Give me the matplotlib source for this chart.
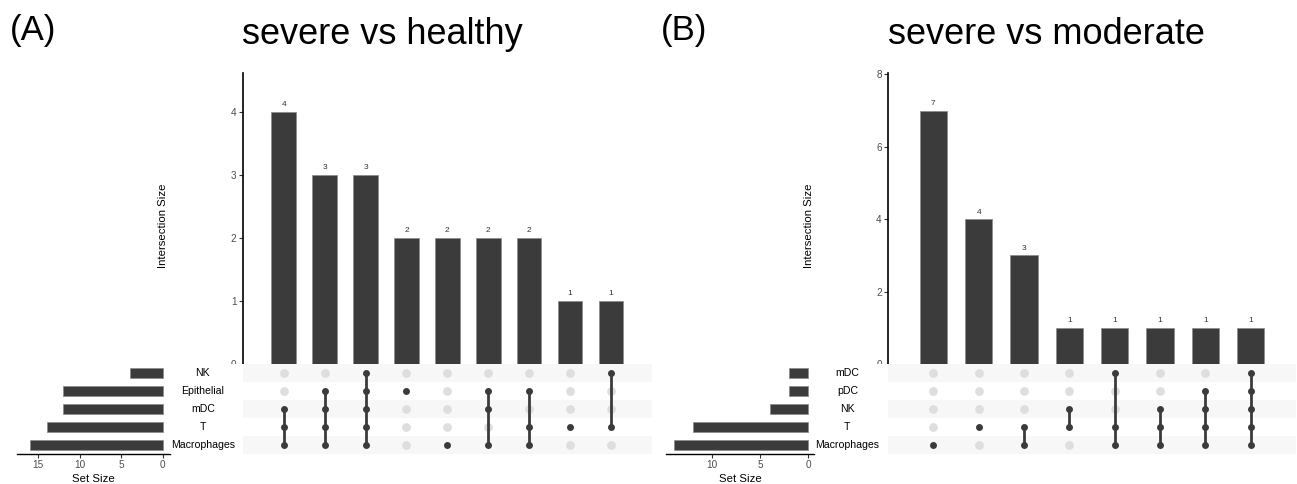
import matplotlib
matplotlib.use("Agg")
import matplotlib.pyplot as plt

plt.rcParams['font.family'] = ['Liberation Sans', 'DejaVu Sans']

# ---------------- data ----------------
sets_a = ["NK", "Epithelial", "mDC", "T", "Macrophages"]
set_sizes_a = [4, 12, 12, 14, 16]
inter_a = [
    ["mDC", "T", "Macrophages"],
    ["Epithelial", "mDC", "T", "Macrophages"],
    ["NK", "Epithelial", "mDC", "T", "Macrophages"],
    ["Epithelial"],
    ["Macrophages"],
    ["Epithelial", "mDC", "Macrophages"],
    ["Epithelial", "T", "Macrophages"],
    ["T"],
    ["NK", "T"],
]
counts_a = [4, 3, 3, 2, 2, 2, 2, 1, 1]

sets_b = ["mDC", "pDC", "NK", "T", "Macrophages"]
set_sizes_b = [2, 2, 4, 12, 14]
inter_b = [
    ["Macrophages"],
    ["T"],
    ["T", "Macrophages"],
    ["NK", "T"],
    ["mDC", "T", "Macrophages"],
    ["NK", "T", "Macrophages"],
    ["pDC", "NK", "T", "Macrophages"],
    ["mDC", "pDC", "NK", "T", "Macrophages"],
]
counts_b = [7, 4, 3, 1, 1, 1, 1, 1]

# ---------------- style ----------------
W, H = 1297, 484
BAR = '#3B3B3B'
GREY_DOT = '#DEDEDE'
STRIPE = '#F7F7F7'
TICKC = '#4D4D4D'

fig = plt.figure(figsize=(W / 100, H / 100), dpi=100)


def fx(px):
    return px / W


def fy(py):
    return 1 - py / H


MAT_TOP, MAT_BOT = 364, 454


def panel(sets, sizes, inters, counts, ss_left, ss_right, mat_left, mat_right,
          bar_top, bar_ylim, bar_yticks, ss_xlim, ss_xticks, ilab_x):
    n = len(inters)
    nr = len(sets)
    xs = list(range(1, n + 1))
    ys = [nr - 1 - i for i in range(nr)]
    ypos = dict(zip(sets, ys))

    # intersection bars
    ax_bar = fig.add_axes([fx(mat_left), fy(MAT_TOP), fx(mat_right - mat_left),
                           (MAT_TOP - bar_top) / H])
    ax_bar.set_zorder(1)
    ax_bar.bar(xs, counts, width=0.6, color=BAR, edgecolor='#8a8a8a', linewidth=0.5)
    for x, c in zip(xs, counts):
        ax_bar.annotate(str(c), (x, c), xytext=(0, 2.5), textcoords='offset points',
                        ha='center', va='bottom', fontsize=6, color='#333333')
    ax_bar.set_xlim(0, n + 1)
    ax_bar.set_ylim(*bar_ylim)
    ax_bar.set_yticks(bar_yticks)
    ax_bar.set_xticks([])
    for s in ['top', 'right', 'bottom']:
        ax_bar.spines[s].set_visible(False)
    ax_bar.spines['left'].set_linewidth(1.2)
    ax_bar.tick_params(axis='y', labelsize=7.2, labelcolor=TICKC, length=3, width=0.8,
                       pad=1.5, color='#333333')
    fig.text(fx(ilab_x), fy(226), 'Intersection Size', rotation=90, ha='center',
             va='center', fontsize=8.2)

    # matrix
    ax_mat = fig.add_axes([fx(mat_left), fy(MAT_BOT), fx(mat_right - mat_left),
                           (MAT_BOT - MAT_TOP) / H])
    ax_mat.set_zorder(2)
    for i, y in enumerate(ys):
        if i % 2 == 0:
            ax_mat.axhspan(y - 0.5, y + 0.5, color=STRIPE, lw=0, zorder=0)
    for x, members in zip(xs, inters):
        for s in sets:
            if s not in members:
                ax_mat.plot(x, ypos[s], 'o', ms=6.3, color=GREY_DOT, mec='none', zorder=1)
        my = [ypos[s] for s in members]
        if len(my) > 1:
            ax_mat.plot([x, x], [min(my), max(my)], color=BAR, lw=2.0, zorder=2,
                        solid_capstyle='butt')
        ax_mat.plot([x] * len(my), my, 'o', ms=5.0, color=BAR, mec='none', zorder=3)
    ax_mat.set_xlim(0, n + 1)
    ax_mat.set_ylim(-0.5, nr - 0.5)
    ax_mat.set_axis_off()

    # set size bars
    ax_ss = fig.add_axes([fx(ss_left), fy(MAT_BOT), fx(ss_right - ss_left),
                          (MAT_BOT - MAT_TOP) / H])
    ax_ss.barh(ys, sizes, height=0.55, color=BAR, edgecolor='#8a8a8a', linewidth=0.5)
    ax_ss.set_xlim(*ss_xlim)
    ax_ss.set_ylim(-0.5, nr - 0.5)
    ax_ss.set_xticks(ss_xticks)
    ax_ss.set_yticks([])
    for s in ['top', 'right', 'left']:
        ax_ss.spines[s].set_visible(False)
    ax_ss.spines['bottom'].set_linewidth(1.0)
    ax_ss.tick_params(axis='x', labelsize=7.2, labelcolor=TICKC, length=3, width=0.8,
                      pad=1.5, color='#333333')
    ax_ss.set_xlabel('Set Size', fontsize=8.2, labelpad=2.5)

    # set name labels (white panel hides the lower half of the "0" tick label)
    ax_lab = fig.add_axes([fx(ss_right), fy(MAT_BOT), fx(mat_left - ss_right),
                           (MAT_BOT - MAT_TOP) / H])
    ax_lab.set_zorder(3)
    ax_lab.set_facecolor('white')
    ax_lab.set_xlim(0, 1)
    ax_lab.set_ylim(-0.5, nr - 0.5)
    ax_lab.set_xticks([])
    ax_lab.set_yticks([])
    for s in ax_lab.spines.values():
        s.set_visible(False)
    for s, y in zip(sets, ys):
        ax_lab.text(0.45, y, s, ha='center', va='center', fontsize=7.6, color='black')


panel(sets_a, set_sizes_a, inter_a, counts_a,
      ss_left=16.7, ss_right=170, mat_left=242.8, mat_right=651.9, bar_top=72.7,
      bar_ylim=(0, 4.62), bar_yticks=[0, 1, 2, 3, 4],
      ss_xlim=(17.6, -0.88), ss_xticks=[15, 10, 5, 0], ilab_x=163)

panel(sets_b, set_sizes_b, inter_b, counts_b,
      ss_left=665.7, ss_right=814.3, mat_left=888, mat_right=1296, bar_top=73.3,
      bar_ylim=(0, 8.03), bar_yticks=[0, 2, 4, 6, 8],
      ss_xlim=(14.85, -0.63), ss_xticks=[10, 5, 0], ilab_x=809)

fig.text(fx(10), fy(40), '(A)', fontsize=25, va='baseline', ha='left')
fig.text(fx(241.7), fy(44.3), 'severe vs healthy', fontsize=26, va='baseline', ha='left')
fig.text(fx(661), fy(40), '(B)', fontsize=25, va='baseline', ha='left')
fig.text(fx(888), fy(44.3), 'severe vs moderate', fontsize=26, va='baseline', ha='left')

fig.savefig('out.png', dpi=100, facecolor='white')
